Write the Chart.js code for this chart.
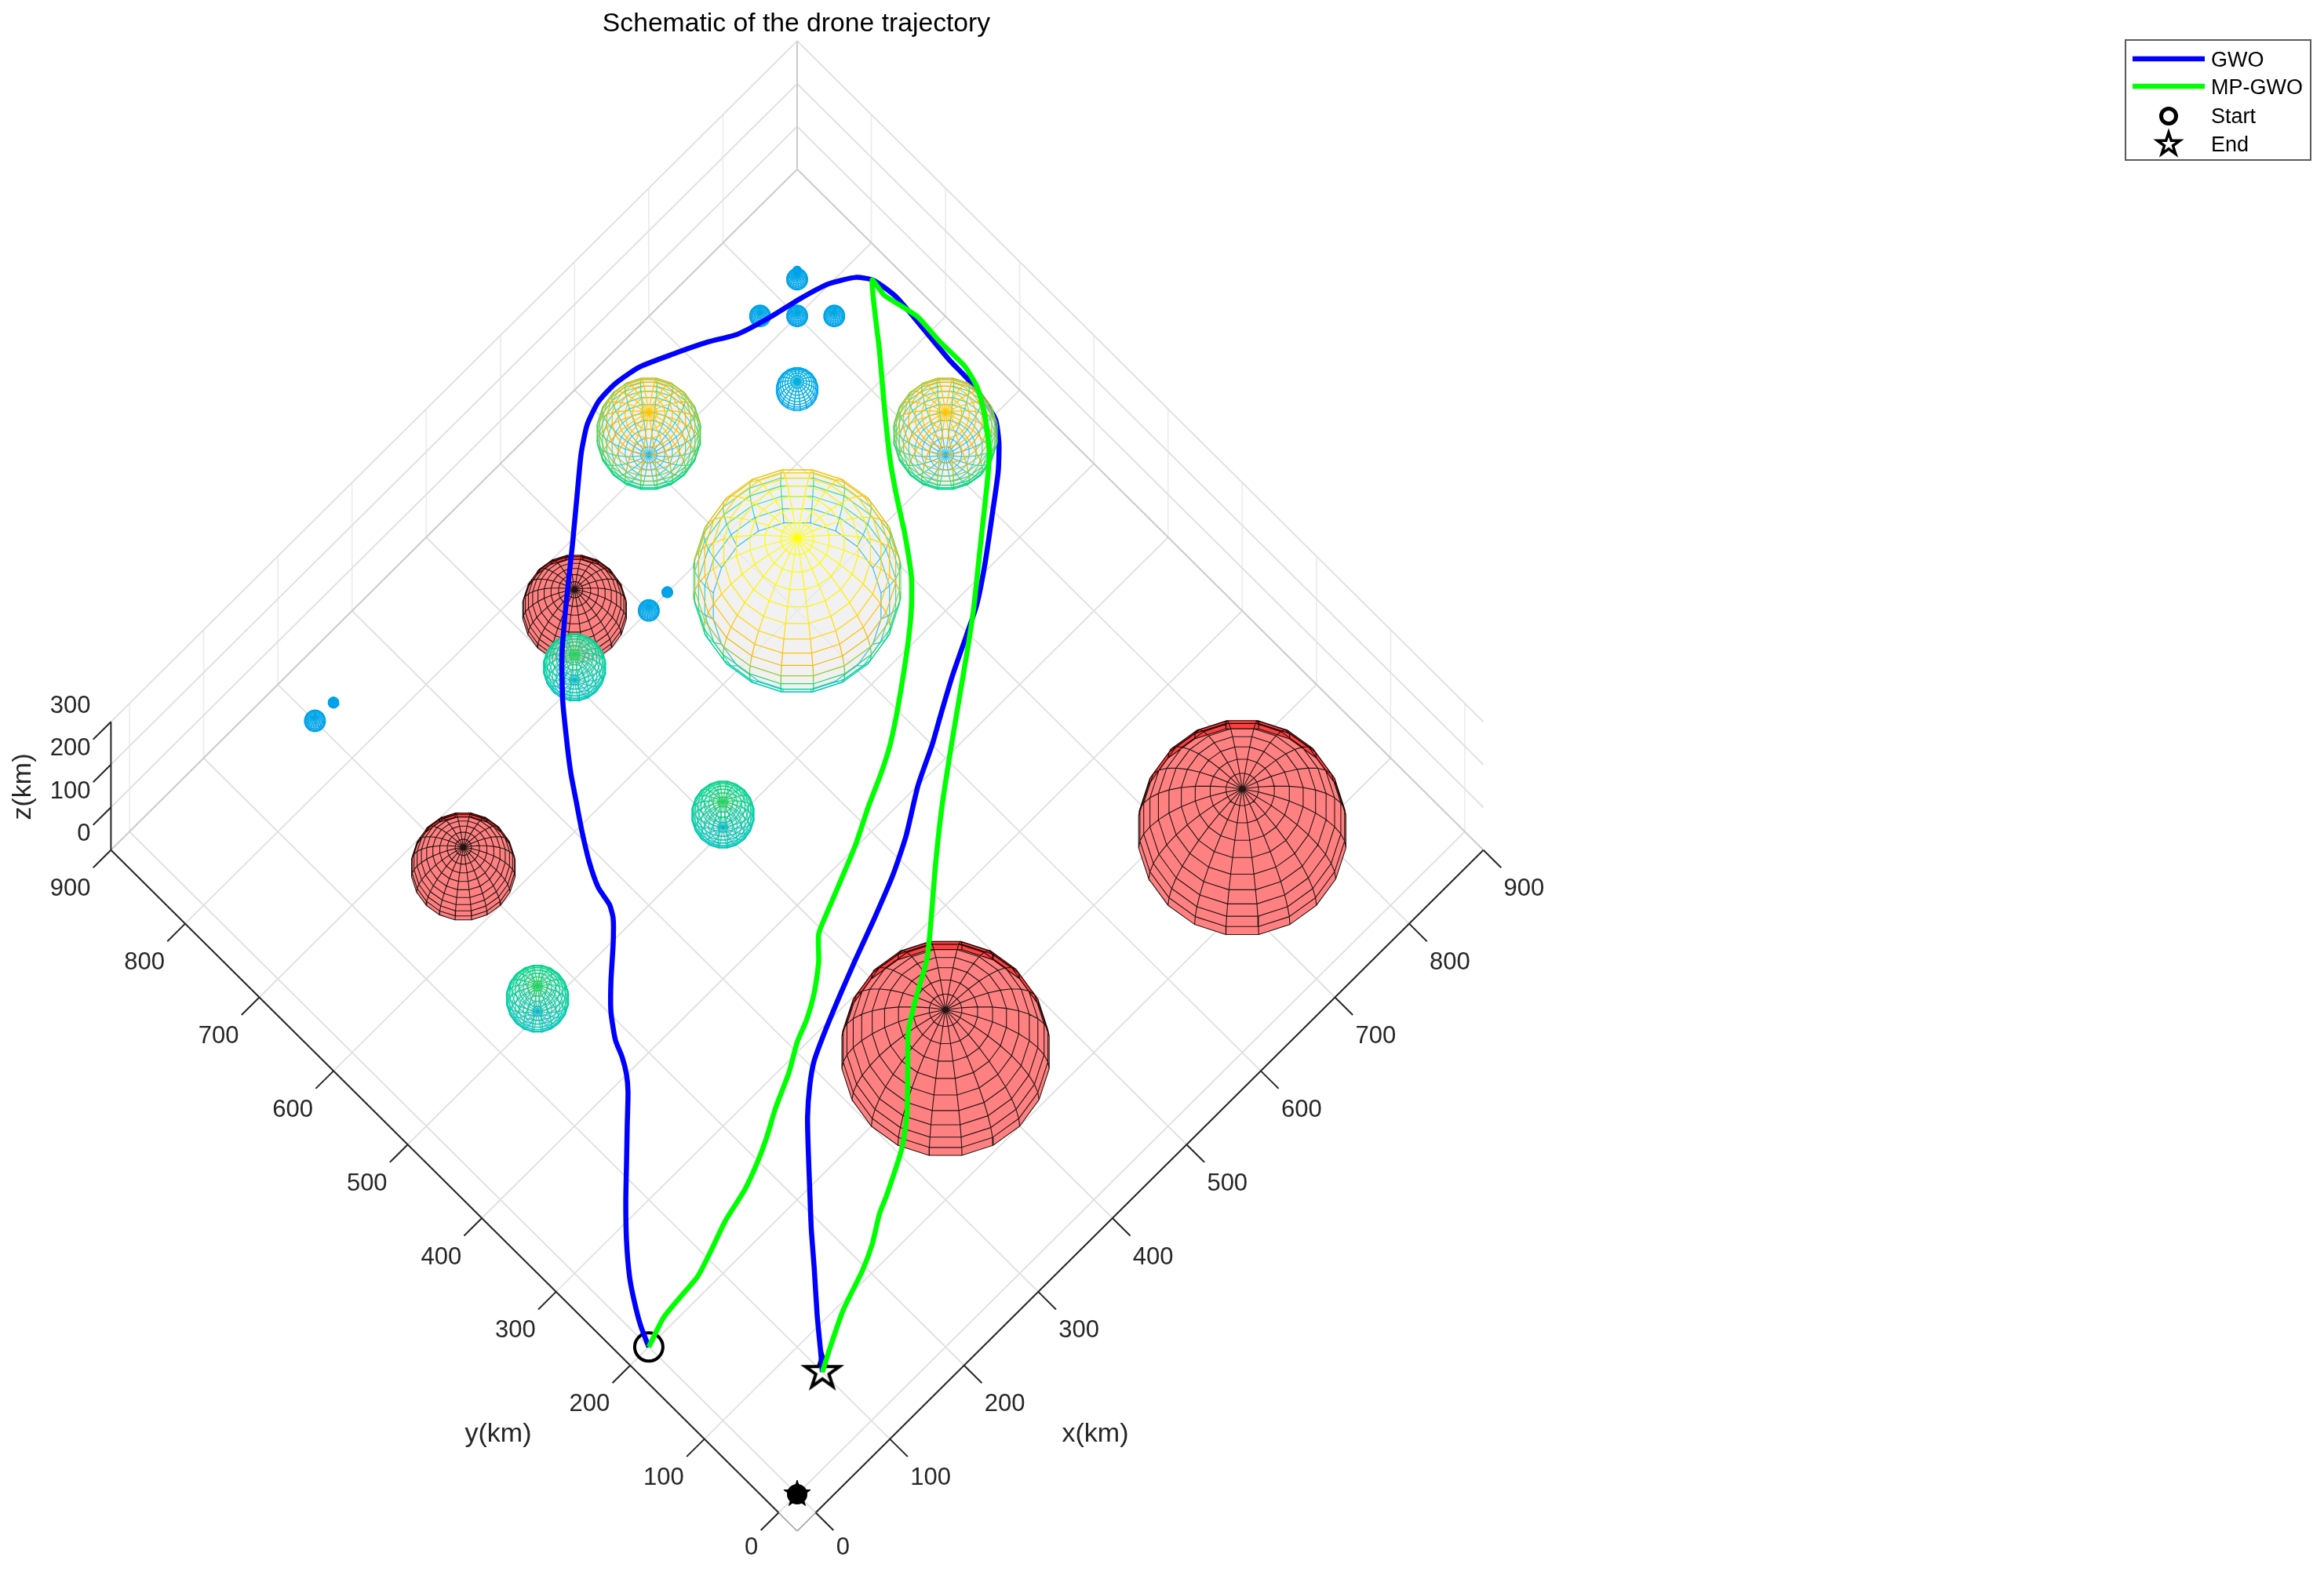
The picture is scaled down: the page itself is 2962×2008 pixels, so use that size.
<!DOCTYPE html>
<html>
<head>
<meta charset="utf-8">
<title>Schematic of the drone trajectory</title>
<script src="https://cdn.jsdelivr.net/npm/chart.js@4"></script>
<style>
  html, body { margin: 0; padding: 0; background: #fff; }
  canvas { display: block; }
</style>
</head>
<body>
<canvas id="chart" width="2962" height="2008"></canvas>
<script>
// tick labels (km)
const xyTicks = [0, 100, 200, 300, 400, 500, 600, 700, 800, 900];
const zTicks = [0, 100, 200, 300];
const seriesNames = ["GWO", "MP-GWO", "Start", "End"];

// trajectories, x/y in km (drawn on the z=0 plane)
const gwoX = [0, 9, 22, 35, 57, 83, 110, 137, 159, 170, 179, 186, 202, 223, 250, 267, 274, 278, 289, 305, 322, 337, 354, 381, 412, 446, 493, 534, 562, 585, 608, 631, 659, 691, 722, 748, 780, 814, 843, 866, 876, 880, 877, 873, 872, 864, 850, 830, 797, 758, 725, 697, 660, 625, 600, 563, 521, 485, 443, 403, 370, 334, 306, 286, 263, 241, 215, 190, 165, 135, 111, 100];
const gwoY = [200, 220, 242, 261, 287, 314, 340, 366, 387, 400, 415, 431, 453, 474, 498, 515, 527, 546, 569, 595, 620, 642, 664, 697, 729, 758, 796, 830, 853, 868, 876, 877, 872, 858, 843, 828, 818, 810, 801, 787, 773, 746, 710, 668, 636, 597, 578, 559, 534, 505, 483, 469, 451, 432, 418, 400, 374, 356, 339, 324, 311, 296, 283, 269, 249, 226, 198, 171, 142, 108, 79, 66];
const mpX = [0, 30, 59, 81, 106, 137, 171, 198, 220, 248, 281, 307, 329, 352, 376, 395, 418, 445, 481, 515, 546, 571, 603, 651, 679, 700, 725, 745, 766, 800, 832, 875, 873, 877, 881, 879, 879, 873, 859, 837, 814, 768, 721, 690, 648, 613, 564, 518, 477, 451, 419, 390, 362, 332, 305, 264, 246, 220, 196, 156, 125, 100];
const mpY = [200, 210, 213, 215, 223, 234, 242, 252, 262, 277, 292, 307, 316, 329, 347, 366, 376, 387, 402, 419, 433, 446, 467, 502, 525, 546, 580, 611, 641, 683, 721, 774, 756, 738, 718, 687, 653, 630, 606, 578, 558, 521, 483, 460, 430, 405, 369, 332, 297, 276, 258, 240, 213, 184, 164, 143, 135, 119, 108, 94, 79, 66];

// red threat domes: centre and radius in km, cut off at the ground
const redX = [750, 400, 450, 200];
const redY = [150, 200, 750, 650];
const redR = [100, 100, 50, 50];

// wireframe spheres
const wireX = [600, 600, 750, 800, 775, 825, 825, 831, 500, 525, 200, 225, 400, 400, 150];
const wireY = [600, 800, 750, 800, 825, 775, 825, 831, 700, 700, 850, 850, 700, 500, 500];
const wireZ = [70, 70, 0, 0, 0, 0, 0, 0, 0, 0, 0, 0, 40, 40, 40];
const wireR = [100, 50, 20, 10, 10, 10, 10, 4, 10, 5, 10, 5, 30, 30, 30];
// this one hides the GWO line where it passes behind it
const rightX = 800, rightY = 600, rightZ = 70, rightR = 50;

const startPoint = [0, 200, 0];
const endPoint = [100, 66, 0];
const originPoint = [0, 0, 0];

// view: the axes are looked at from above, turned 45 degrees
const Z_SCALE = 0.5807;
const pt = (x, y, z = 0) => ({ x: x - y, y: x + y + Z_SCALE * z });
const GAP = { x: null, y: null };

const AXIS_MIN = -25, AXIS_TICK = -49, XY_MAX = 900, Z_MAX = 300;

// colour by height
const heightStops = [
  [0, [0, 160, 235]], [20, [0, 175, 225]], [30, [0, 200, 195]], [50, [0, 210, 150]],
  [65, [0, 215, 110]], [78, [110, 205, 70]], [92, [190, 195, 40]], [105, [255, 180, 0]],
  [125, [255, 205, 0]], [145, [255, 240, 0]], [170, [255, 255, 0]]
];
function heightColor(h, alpha = 1) {
  let rgb = [255, 255, 0];
  for (let i = 1; i < heightStops.length; i++) {
    if (h <= heightStops[i][0]) {
      const [h0, c0] = heightStops[i - 1], [h1, c1] = heightStops[i];
      const t = Math.max(0, (h - h0) / (h1 - h0));
      rgb = c0.map((c, k) => Math.round(c + (c1[k] - c) * t));
      break;
    }
  }
  return `rgba(${rgb.join(",")},${alpha})`;
}

// lat/lon mesh like MATLAB sphere(20)
const LAT_STEP = 9, LON_STEP = 18;
const rad = d => d * Math.PI / 180;
function spherePoint(cx, cy, cz, r, lat, lon) {
  return [cx + r * Math.cos(rad(lat)) * Math.cos(rad(lon)),
          cy + r * Math.cos(rad(lat)) * Math.sin(rad(lon)),
          cz + r * Math.sin(rad(lat))];
}
function facing(lat, lon) {
  return Math.sin(rad(lat)) - 0.41 * Math.cos(rad(lat)) * Math.cos(rad(lon - 45)) > 0;
}

function line(data, color, width, extra) {
  return Object.assign({ data, showLine: true, borderColor: color, borderWidth: width,
    pointRadius: 0, spanGaps: false, fill: false, clip: false }, extra || {});
}

function gridDatasets() {
  const g = [], wall = [], dark = [], axis = [], axisEnd = [];
  const seg = (arr, a, b) => arr.push(pt(...a), pt(...b), GAP);
  for (const t of xyTicks) {
    const target = t === XY_MAX ? dark : g;
    seg(target, [t, AXIS_MIN], [t, XY_MAX]);
    seg(target, [AXIS_MIN, t], [XY_MAX, t]);
    if (t !== XY_MAX) {
      seg(wall, [t, XY_MAX, 0], [t, XY_MAX, Z_MAX]);
      seg(wall, [XY_MAX, t, 0], [XY_MAX, t, Z_MAX]);
    }
    seg(axis, [t, AXIS_MIN], [t, AXIS_TICK]);
    seg(axis, [AXIS_MIN, t], [AXIS_TICK, t]);
  }
  seg(dark, [XY_MAX, XY_MAX, 0], [XY_MAX, XY_MAX, Z_MAX]);
  for (const z of zTicks) {
    if (z === 0) continue;
    seg(g, [AXIS_MIN, XY_MAX, z], [XY_MAX, XY_MAX, z]);
    seg(g, [XY_MAX, AXIS_MIN, z], [XY_MAX, XY_MAX, z]);
  }
  for (const z of zTicks) seg(axis, [AXIS_MIN, XY_MAX, z], [AXIS_TICK, XY_MAX, z]);
  seg(axis, [0, AXIS_MIN], [XY_MAX, AXIS_MIN]);
  seg(axis, [AXIS_MIN, 0], [AXIS_MIN, XY_MAX]);
  seg(axis, [AXIS_MIN, XY_MAX, 0], [AXIS_MIN, XY_MAX, Z_MAX]);
  seg(axisEnd, [AXIS_MIN, AXIS_MIN], [0, AXIS_MIN]);
  seg(axisEnd, [AXIS_MIN, AXIS_MIN], [AXIS_MIN, 0]);
  return [line(wall, "#ebebeb", 1.6), line(g, "#e2e2e2", 2), line(dark, "#cbcbcb", 2),
          line(axisEnd, "#9a9a9a", 1.5), line(axis, "#262626", 2)];
}

function redSphere(cx, cy, r) {
  const sets = [], edges = [];
  const quad = (lat, lon, fillCol) => {
    const corners = [[lat, lon], [lat + LAT_STEP, lon], [lat + LAT_STEP, lon + LON_STEP], [lat, lon + LON_STEP], [lat, lon]];
    const data = corners.map(([a, o]) => pt(...spherePoint(cx, cy, 0, r, a, o)));
    sets.push(line(data, fillCol, 0.5, { fill: "shape", backgroundColor: fillCol }));
    edges.push(...data, GAP);
  };
  for (let lat = 0; lat < 90; lat += LAT_STEP) {
    for (let lon = -180; lon < 180; lon += LON_STEP) {
      if (facing(lat + LAT_STEP / 2, lon + LON_STEP / 2)) quad(lat, lon, "#ff8080");
    }
  }
  // the darker rim on the far side, where the inside of the dome shows through
  for (let lat = 0; lat < 27; lat += LAT_STEP) {
    for (let lon = -180; lon < 180; lon += LON_STEP) {
      const mid = lon + LON_STEP / 2;
      if (!facing(lat + LAT_STEP / 2, mid) && Math.cos(rad(mid - 45)) > 0) quad(lat, lon, "rgba(255,0,0,0.5)");
    }
  }
  sets.push(line(edges, "rgba(0,0,0,0.85)", 1.1));
  return sets;
}

function wireSphere(cx, cy, cz, r) {
  const back = [], front = [];
  const edge = (a0, o0, a1, o1) => {
    const p0 = spherePoint(cx, cy, cz, r, a0, o0), p1 = spherePoint(cx, cy, cz, r, a1, o1);
    if (p0[2] < -0.01 || p1[2] < -0.01) return;
    const h = (p0[2] + p1[2]) / 2;
    const target = facing((a0 + a1) / 2, (o0 + o1) / 2) ? front : back;
    target.push({ ...pt(...p0), h }, { ...pt(...p1), h }, GAP);
  };
  for (let lat = -90; lat <= 90; lat += LAT_STEP) {
    for (let lon = -180; lon < 180; lon += LON_STEP) {
      if (Math.abs(lat) !== 90) edge(lat, lon, lat, lon + LON_STEP);
      if (lat < 90) edge(lat, lon, lat + LAT_STEP, lon);
    }
  }
  const edgeSet = (data, width, alpha) => line(data, "#000", width, {
    segment: { borderColor: c => heightColor(data[c.p0DataIndex].h, alpha) }
  });
  const sets = [];
  // pale see-through skin, small domes on the ground have none
  if (cz > 0) {
    const outline = [];
    const c = pt(cx, cy, cz);
    for (let a = 0; a <= 360; a += 10) {
      outline.push({ x: c.x + r * 1.37 * Math.cos(rad(a)), y: c.y + r * 1.48 * Math.sin(rad(a)) });
    }
    sets.push(line(outline, "rgba(0,0,0,0)", 0, { fill: "shape", backgroundColor: "rgba(236,236,236,0.75)" }));
  }
  const w = r <= 10 ? 1.3 : r <= 20 ? 1.4 : 1.2;
  sets.push(edgeSet(back, w, 0.75), edgeSet(front, w, 1));
  return sets;
}

function starCanvas(R, lineWidth, filled) {
  const size = Math.ceil(2 * R + 2 * lineWidth + 4);
  const c = document.createElement("canvas");
  c.width = c.height = size;
  traceStar(c.getContext("2d"), size / 2, size / 2, R, lineWidth, filled);
  return c;
}
function traceStar(ctx, cx, cy, R, lineWidth, filled) {
  ctx.beginPath();
  for (let i = 0; i < 10; i++) {
    const rr = i % 2 ? R * 0.382 : R;
    const a = -Math.PI / 2 + i * Math.PI / 5;
    ctx[i ? "lineTo" : "moveTo"](cx + rr * Math.cos(a), cy + rr * Math.sin(a));
  }
  ctx.closePath();
  ctx.lineWidth = lineWidth;
  ctx.lineJoin = "miter";
  ctx.strokeStyle = "#000";
  ctx.fillStyle = "#000";
  if (filled) ctx.fill();
  ctx.stroke();
}

function marker(p, style, radius, extra) {
  return Object.assign({ data: [pt(...p)], showLine: false, pointStyle: style, pointRadius: radius,
    pointBorderColor: "#000", pointBorderWidth: 4, pointBackgroundColor: "rgba(0,0,0,0)", clip: false }, extra || {});
}

const curve = (xs, ys) => xs.map((x, i) => pt(x, ys[i]));

// paint order, far to near
let datasets = [...gridDatasets()];
redX.forEach((x, i) => datasets.push(...redSphere(x, redY[i], redR[i])));
wireX.forEach((x, i) => datasets.push(...wireSphere(x, wireY[i], wireZ[i], wireR[i])));
datasets.push(marker(originPoint, "circle", 13, { pointBackgroundColor: "#000", pointBorderWidth: 0 }));
datasets.push(marker(originPoint, starCanvas(18, 1, true), 18));
datasets.push(marker(startPoint, "circle", 18));
datasets.push(marker(endPoint, starCanvas(23, 4, false), 25));
datasets.push(line(curve(gwoX, gwoY), "#0000ff", 6.5, { tension: 0.2, borderJoinStyle: "round", label: seriesNames[0] }));
datasets.push(...wireSphere(rightX, rightY, rightZ, rightR));
datasets.push(line(curve(mpX, mpY), "#00ff00", 6.5, { tension: 0.2, borderJoinStyle: "round", label: seriesNames[1] }));
// Chart.js paints the first dataset last
datasets = datasets.reverse();

const TICK_FONT = '31px "Liberation Sans"';
const textPlugin = {
  id: "axesText",
  afterDraw(chart) {
    const { ctx, scales } = chart;
    const px = (x, y, z = 0) => {
      const p = pt(x, y, z);
      return [scales.x.getPixelForValue(p.x), scales.y.getPixelForValue(p.y)];
    };
    ctx.save();
    ctx.fillStyle = "#262626";
    ctx.font = TICK_FONT;
    ctx.textBaseline = "middle";
    for (const t of xyTicks) {
      const lift = t === 0 ? 45 : 50;
      let [a, b] = px(t, AXIS_MIN);
      ctx.textAlign = "left";
      ctx.fillText(String(t), a + 26, b + lift);
      [a, b] = px(AXIS_MIN, t);
      ctx.textAlign = "right";
      ctx.fillText(String(t), a - 26, b + lift);
    }
    ctx.textAlign = "right";
    for (const z of zTicks) {
      const [a, b] = px(AXIS_MIN, XY_MAX, z);
      ctx.fillText(String(z), a - 26, b - 20);
    }
    ctx.textAlign = "center";
    ctx.font = '34px "Liberation Sans"';
    ctx.fillText("x(km)", 1396, 1829);
    ctx.fillText("y(km)", 635, 1829);
    ctx.save();
    ctx.translate(30, 1003);
    ctx.rotate(-Math.PI / 2);
    ctx.fillText("z(km)", 0, 0);
    ctx.restore();

    ctx.fillStyle = "#000";
    ctx.font = '33.7px "Liberation Sans"';
    ctx.fillText("Schematic of the drone trajectory", 1015, 31);

    // legend
    ctx.fillStyle = "#fff";
    ctx.strokeStyle = "#5a5a5a";
    ctx.lineWidth = 2;
    ctx.fillRect(2709, 51, 236, 153);
    ctx.strokeRect(2709, 51, 236, 153);
    ctx.textAlign = "left";
    ctx.font = '27px "Liberation Sans"';
    ctx.fillStyle = "#000";
    const rowY = [75, 110, 147, 183];
    seriesNames.forEach((name, i) => ctx.fillText(name, 2818, rowY[i] + 3));
    ctx.lineWidth = 6.5;
    ctx.strokeStyle = "#0000ff";
    ctx.beginPath(); ctx.moveTo(2718, rowY[0]); ctx.lineTo(2810, rowY[0]); ctx.stroke();
    ctx.strokeStyle = "#00ff00";
    ctx.beginPath(); ctx.moveTo(2718, rowY[1]); ctx.lineTo(2810, rowY[1]); ctx.stroke();
    ctx.strokeStyle = "#000";
    ctx.lineWidth = 5;
    ctx.beginPath(); ctx.arc(2764, rowY[2] + 1, 9.5, 0, 2 * Math.PI); ctx.stroke();
    traceStar(ctx, 2764, rowY[3] + 1, 15, 3.5, false);
    ctx.restore();
  }
};

new Chart(document.getElementById("chart"), {
  type: "scatter",
  data: { datasets },
  plugins: [textPlugin],
  options: {
    responsive: false,
    animation: false,
    devicePixelRatio: 1,
    layout: { padding: 0, autoPadding: false },
    plugins: { legend: { display: false }, tooltip: { enabled: false }, title: { display: false } },
    events: [],
    scales: {
      // ranges chosen so that 900 km spans the same pixels as the figure
      x: { type: "linear", display: false, min: -1074.56, max: 2058.17 },
      y: { type: "linear", display: false, min: -109.75, max: 2029.8 }
    }
  }
});
</script>
</body>
</html>
